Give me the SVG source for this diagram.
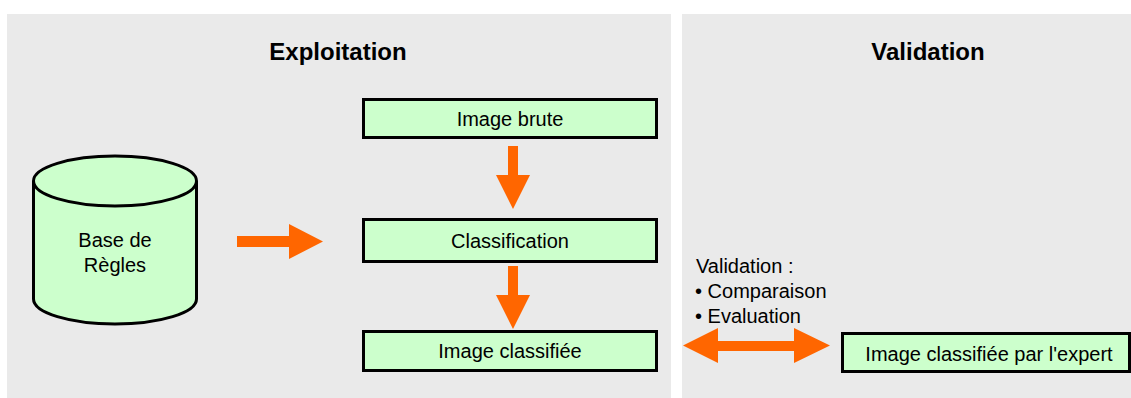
<svg xmlns="http://www.w3.org/2000/svg" width="1131" height="398" viewBox="0 0 1131 398">
  <style>
    .panel { fill: #EAEAEA; }
    .box { fill: #CCFFCC; stroke: #000; stroke-width: 3; }
    .title { font-family: "Liberation Sans", Arial, sans-serif; font-size: 24px; font-weight: bold; fill: #000; text-anchor: middle; }
    .label { font-family: "Liberation Sans", Arial, sans-serif; font-size: 20px; fill: #000; text-anchor: middle; }
    .note { font-family: "Liberation Sans", Arial, sans-serif; font-size: 20px; fill: #000; }
    .arrow { fill: #FF6600; stroke: none; }
  </style>
  <rect width="1131" height="398" fill="#FFFFFF"/>

  <!-- Panels -->
  <g id="panel-exploitation">
    <rect class="panel" x="7" y="14" width="664" height="384"/>
    <text class="title" x="338" y="60">Exploitation</text>
  </g>
  <g id="panel-validation">
    <rect class="panel" x="682" y="14" width="449" height="384"/>
    <text class="title" x="928" y="60">Validation</text>
  </g>

  <!-- Rule base (cylinder) -->
  <g id="base-regles">
    <path class="box" d="M33.5,181 A81.5,25 0 0,1 196.5,181 V299 A81.5,25 0 0,1 33.5,299 Z"/>
    <path d="M33.5,181 A81.5,25 0 0,0 196.5,181" fill="none" stroke="#000" stroke-width="3"/>
    <text class="label" x="115" y="247">Base de</text>
    <text class="label" x="115" y="272">Règles</text>
  </g>

  <g id="image-brute">
    <rect class="box" x="363.5" y="99.5" width="293" height="38"/>
    <text class="label" x="510" y="126">Image brute</text>
  </g>

  <g id="classification">
    <rect class="box" x="363.5" y="219.5" width="293" height="42"/>
    <text class="label" x="510" y="248">Classification</text>
  </g>

  <g id="image-classifiee">
    <rect class="box" x="363.5" y="331.5" width="293" height="39"/>
    <text class="label" x="510" y="358">Image classifiée</text>
  </g>

  <g id="image-expert">
    <rect class="box" x="842.5" y="333.5" width="287" height="38"/>
    <text class="label" x="989" y="361">Image classifiée par l'expert</text>
  </g>

  <g id="validation-note">
    <text class="note" x="696" y="273">Validation :</text>
    <text class="note" x="695" y="298">• Comparaison</text>
    <text class="note" x="695" y="323">• Evaluation</text>
  </g>

  <!-- Connectors -->
  <g id="connectors">
    <polygon class="arrow" points="237,236 289,236 289,224 323,241.5 289,259 289,247 237,247"/>
    <polygon class="arrow" points="508,146 518,146 518,175 530,175 513,209 496,175 508,175"/>
    <polygon class="arrow" points="508,266 518,266 518,295 530,295 513,329 496,295 508,295"/>
    <polygon class="arrow" points="683,345.5 718,328 718,341 794,341 794,328 830,345.5 794,363 794,351 718,351 718,363"/>
  </g>
</svg>
